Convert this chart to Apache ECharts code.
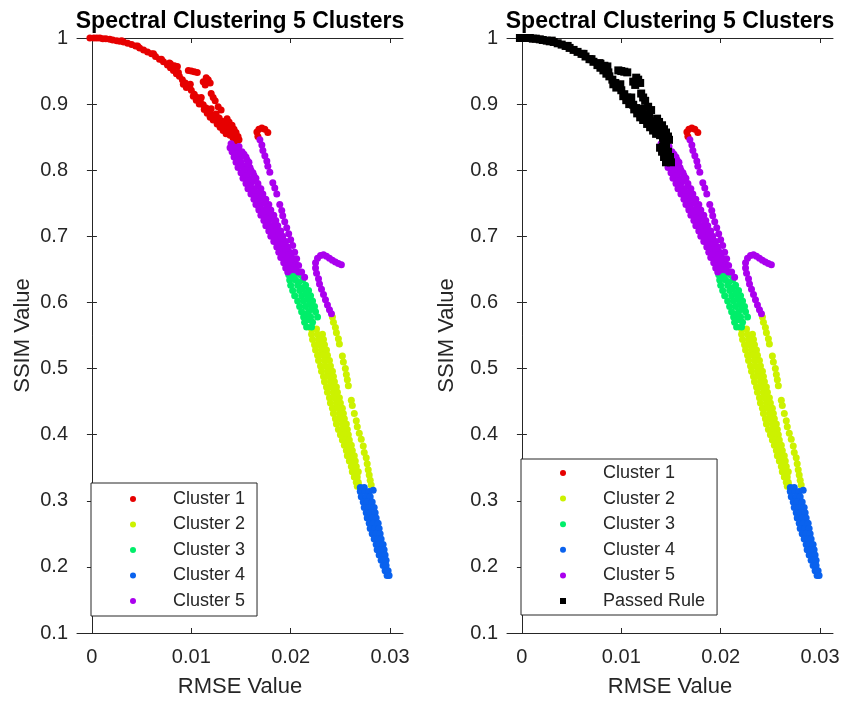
<!DOCTYPE html>
<html><head><meta charset="utf-8">
<script src="https://cdn.jsdelivr.net/npm/echarts@6/dist/echarts.min.js"></script>
<style>html,body{margin:0;padding:0;background:#fff}#c{width:843px;height:703px}</style>
</head><body><div id="c"></div>
<script>
const titleText = 'Spectral Clustering 5 Clusters';
const xName = 'RMSE Value';
const yName = 'SSIM Value';
const xTicks = [0, 0.01, 0.02, 0.03];
const clusterNames = ['Cluster 1', 'Cluster 2', 'Cluster 3', 'Cluster 4', 'Cluster 5'];
const passedName = 'Passed Rule';

const cluster1Curve = [[-0.0002,1.000],[0.0002,1.000],[0.0005,1.000],[0.0008,1.000],[0.0011,0.999],[0.0014,0.999],[0.0018,0.998],[0.0021,0.997],[0.0025,0.996],[0.0028,0.995],[0.0032,0.994],[0.0036,0.992],[0.0040,0.990],[0.0044,0.988],[0.0048,0.985],[0.0052,0.982],[0.0056,0.979],[0.0060,0.976],[0.0064,0.972],[0.0068,0.968],[0.0072,0.964],[0.0076,0.959],[0.0079,0.955],[0.0082,0.951],[0.0085,0.946],[0.0088,0.942],[0.0091,0.937],[0.0094,0.932],[0.0097,0.927],[0.0100,0.921],[0.0103,0.915],[0.0106,0.910],[0.0109,0.904],[0.0112,0.899],[0.0115,0.894],[0.0118,0.889],[0.0121,0.884],[0.0124,0.878],[0.0127,0.872],[0.0130,0.867],[0.0133,0.862],[0.0136,0.857],[0.0139,0.853],[0.0142,0.849],[0.0145,0.845],[0.0070,0.968],[0.0087,0.948],[0.0099,0.930],[0.0110,0.910],[0.0120,0.893],[0.0128,0.879],[0.0134,0.870],[0.0140,0.860],[0.0144,0.853],[0.0137,0.866],[0.0131,0.874],[0.0125,0.885],[0.0143,0.842],[0.0146,0.848],[0.0092,0.930],[0.0095,0.925],[0.0102,0.912],[0.0105,0.906],[0.0108,0.900],[0.0113,0.892],[0.0116,0.886],[0.0119,0.880],[0.0122,0.876],[0.0126,0.870],[0.0129,0.865],[0.0132,0.860],[0.0135,0.855],[0.0138,0.858],[0.0141,0.856],[0.0133,0.868],[0.0126,0.878],[0.0030,0.996],[0.0046,0.988],[0.0062,0.976],[0.0078,0.962]];
const cluster1Branch = [[0.0079,0.961],[0.0083,0.958],[0.0086,0.957],[0.0097,0.951],[0.0100,0.950],[0.0103,0.949],[0.0106,0.948],[0.0112,0.934],[0.0115,0.940],[0.0117,0.937],[0.0119,0.932],[0.0114,0.929],[0.0120,0.916],[0.0122,0.910],[0.0124,0.905],[0.0127,0.896],[0.0130,0.891],[0.0136,0.878],[0.0138,0.873],[0.0141,0.868],[0.0143,0.862],[0.0145,0.857],[0.0147,0.851],[0.0148,0.846]];
const cluster1Hook = [[0.0166,0.858],[0.0168,0.862],[0.0171,0.864],[0.0174,0.862],[0.0177,0.857],[0.0167,0.851]];

const cluster2Band = [[0.0221,0.560],[0.0226,0.560],[0.0221,0.552],[0.0227,0.552],[0.0232,0.552],[0.0222,0.544],[0.0228,0.544],[0.0233,0.544],[0.0224,0.536],[0.0229,0.536],[0.0234,0.536],[0.0225,0.528],[0.0231,0.528],[0.0236,0.528],[0.0227,0.520],[0.0232,0.520],[0.0237,0.520],[0.0228,0.512],[0.0234,0.512],[0.0239,0.512],[0.0230,0.504],[0.0235,0.504],[0.0240,0.504],[0.0231,0.496],[0.0237,0.496],[0.0242,0.496],[0.0233,0.488],[0.0238,0.488],[0.0243,0.488],[0.0234,0.480],[0.0240,0.480],[0.0244,0.480],[0.0236,0.472],[0.0241,0.472],[0.0246,0.472],[0.0237,0.464],[0.0243,0.464],[0.0247,0.464],[0.0239,0.456],[0.0244,0.456],[0.0249,0.456],[0.0240,0.448],[0.0246,0.448],[0.0250,0.448],[0.0242,0.440],[0.0247,0.440],[0.0252,0.440],[0.0243,0.432],[0.0249,0.432],[0.0253,0.432],[0.0245,0.424],[0.0250,0.424],[0.0254,0.424],[0.0246,0.416],[0.0252,0.416],[0.0256,0.416],[0.0248,0.408],[0.0253,0.408],[0.0257,0.408],[0.0250,0.400],[0.0255,0.400],[0.0258,0.400],[0.0252,0.392],[0.0256,0.392],[0.0259,0.392],[0.0254,0.384],[0.0258,0.384],[0.0261,0.384],[0.0256,0.376],[0.0260,0.376],[0.0262,0.376],[0.0257,0.368],[0.0261,0.368],[0.0264,0.368],[0.0259,0.360],[0.0263,0.360],[0.0265,0.360],[0.0261,0.352],[0.0264,0.352],[0.0266,0.352],[0.0262,0.344],[0.0265,0.344],[0.0268,0.344],[0.0264,0.336],[0.0267,0.336],[0.0266,0.328],[0.0268,0.328],[0.0267,0.322],[0.0269,0.322]];
const cluster2Line = [[0.0242,0.578],[0.0243,0.570],[0.0245,0.562],[0.0246,0.554],[0.0248,0.545],[0.0249,0.537],[0.0252,0.519],[0.0253,0.510],[0.0255,0.500],[0.0256,0.491],[0.0257,0.483],[0.0258,0.474],[0.0261,0.452],[0.0262,0.444],[0.0264,0.432],[0.0266,0.421],[0.0267,0.412],[0.0269,0.402],[0.0271,0.393],[0.0273,0.383],[0.0274,0.373],[0.0276,0.365],[0.0277,0.356],[0.0278,0.347],[0.0279,0.339],[0.0280,0.331],[0.0281,0.324]];

const cluster3 = [[0.0198,0.642],[0.0204,0.642],[0.0210,0.642],[0.0199,0.634],[0.0205,0.634],[0.0212,0.634],[0.0200,0.626],[0.0207,0.626],[0.0215,0.626],[0.0202,0.618],[0.0209,0.618],[0.0218,0.618],[0.0204,0.610],[0.0211,0.610],[0.0220,0.610],[0.0207,0.602],[0.0213,0.602],[0.0222,0.602],[0.0209,0.594],[0.0215,0.594],[0.0224,0.594],[0.0211,0.586],[0.0218,0.586],[0.0225,0.586],[0.0213,0.578],[0.0220,0.578],[0.0227,0.578],[0.0214,0.570],[0.0222,0.570],[0.0216,0.563],[0.0221,0.563],[0.0202,0.638],[0.0208,0.630],[0.0212,0.622],[0.0215,0.614],[0.0217,0.606],[0.0219,0.598],[0.0221,0.590],[0.0216,0.582],[0.0218,0.574]];

const cluster4 = [[0.0270,0.320],[0.0274,0.320],[0.0270,0.314],[0.0275,0.314],[0.0279,0.314],[0.0283,0.316],[0.0271,0.306],[0.0276,0.306],[0.0280,0.306],[0.0273,0.298],[0.0277,0.298],[0.0282,0.298],[0.0274,0.290],[0.0279,0.290],[0.0284,0.290],[0.0276,0.282],[0.0280,0.282],[0.0285,0.282],[0.0277,0.274],[0.0282,0.274],[0.0286,0.274],[0.0279,0.266],[0.0283,0.266],[0.0288,0.266],[0.0280,0.258],[0.0285,0.258],[0.0289,0.258],[0.0282,0.250],[0.0286,0.250],[0.0290,0.250],[0.0284,0.242],[0.0288,0.242],[0.0291,0.242],[0.0286,0.234],[0.0289,0.234],[0.0293,0.234],[0.0287,0.226],[0.0291,0.226],[0.0294,0.226],[0.0289,0.218],[0.0293,0.218],[0.0295,0.218],[0.0291,0.210],[0.0294,0.210],[0.0296,0.210],[0.0293,0.202],[0.0296,0.202],[0.0295,0.194],[0.0298,0.194],[0.0297,0.187],[0.0299,0.187]];

const cluster5Band = [[0.0140,0.840],[0.0139,0.834],[0.0145,0.834],[0.0141,0.828],[0.0147,0.828],[0.0151,0.828],[0.0143,0.820],[0.0149,0.820],[0.0155,0.820],[0.0145,0.812],[0.0150,0.812],[0.0158,0.812],[0.0147,0.804],[0.0153,0.804],[0.0159,0.804],[0.0150,0.796],[0.0156,0.796],[0.0162,0.796],[0.0152,0.788],[0.0158,0.788],[0.0165,0.788],[0.0155,0.780],[0.0160,0.780],[0.0167,0.780],[0.0157,0.772],[0.0163,0.772],[0.0170,0.772],[0.0160,0.764],[0.0166,0.764],[0.0172,0.764],[0.0163,0.756],[0.0168,0.756],[0.0175,0.756],[0.0165,0.748],[0.0170,0.748],[0.0178,0.748],[0.0168,0.740],[0.0173,0.740],[0.0180,0.740],[0.0170,0.732],[0.0176,0.732],[0.0183,0.732],[0.0173,0.724],[0.0178,0.724],[0.0185,0.724],[0.0175,0.716],[0.0181,0.716],[0.0187,0.716],[0.0178,0.708],[0.0183,0.708],[0.0190,0.708],[0.0180,0.700],[0.0186,0.700],[0.0192,0.700],[0.0183,0.692],[0.0188,0.692],[0.0195,0.692],[0.0186,0.684],[0.0190,0.684],[0.0197,0.684],[0.0188,0.676],[0.0193,0.676],[0.0199,0.676],[0.0190,0.668],[0.0196,0.668],[0.0201,0.668],[0.0193,0.660],[0.0199,0.660],[0.0204,0.660],[0.0195,0.652],[0.0201,0.652],[0.0197,0.646],[0.0208,0.646],
[0.0142,0.836],[0.0148,0.836],[0.0146,0.824],[0.0153,0.824],[0.0148,0.816],[0.0156,0.816],[0.0151,0.808],[0.0157,0.808],[0.0153,0.800],[0.0160,0.800],[0.0155,0.792],[0.0163,0.792],[0.0157,0.784],[0.0164,0.784],[0.0158,0.776],[0.0167,0.776],[0.0162,0.768],[0.0169,0.768],[0.0164,0.760],[0.0171,0.760],[0.0167,0.752],[0.0174,0.752],[0.0168,0.744],[0.0176,0.744],[0.0172,0.736],[0.0179,0.736],[0.0174,0.728],[0.0181,0.728],[0.0176,0.720],[0.0184,0.720],[0.0179,0.712],[0.0186,0.712],[0.0181,0.704],[0.0188,0.704],[0.0184,0.696],[0.0191,0.696],[0.0187,0.688],[0.0193,0.688],[0.0189,0.680],[0.0195,0.680],[0.0191,0.672],[0.0198,0.672],[0.0194,0.664],[0.0200,0.664],[0.0197,0.656],[0.0203,0.656],[0.0200,0.649],[0.0205,0.649]];
const cluster5Line = [[0.0169,0.846],[0.0171,0.838],[0.0172,0.830],[0.0174,0.822],[0.0176,0.814],[0.0177,0.806],[0.0179,0.797],[0.0182,0.781],[0.0184,0.773],[0.0186,0.764],[0.0189,0.748],[0.0191,0.739],[0.0192,0.731],[0.0194,0.722],[0.0196,0.713],[0.0198,0.704],[0.0200,0.695],[0.0202,0.686],[0.0204,0.676],[0.0206,0.666],[0.0208,0.656],[0.0211,0.646],[0.0214,0.638]];
const cluster5Hook = [[0.0225,0.660],[0.0227,0.667],[0.0230,0.671],[0.0233,0.672],[0.0236,0.670],[0.0239,0.667],[0.0242,0.664],[0.0245,0.661],[0.0248,0.659],[0.0251,0.657],[0.0225,0.652],[0.0226,0.644],[0.0228,0.636],[0.0229,0.628],[0.0231,0.620],[0.0233,0.612],[0.0235,0.604],[0.0237,0.596],[0.0239,0.589],[0.0241,0.583]];

const passedExtra = [[0.0139,0.834],[0.0145,0.834],[0.0141,0.828],[0.0147,0.828],[0.0143,0.820],[0.0149,0.820],[0.0145,0.812],[0.0150,0.812],[0.0147,0.816],[0.0142,0.836],[0.0146,0.824]];

const clusterColors = ['#e60000', '#ccf200', '#00ee6a', '#0a62ee', '#aa00ee'];
const passedColor = '#000000';

const cluster1 = cluster1Curve.concat(cluster1Branch, cluster1Hook);
const cluster2 = cluster2Band.concat(cluster2Line);
const cluster5 = cluster5Band.concat(cluster5Line, cluster5Hook);
const passedRule = cluster1Curve.concat(cluster1Branch, passedExtra);
const clusterData = [cluster1, cluster2, cluster3, cluster4, cluster5];

const ink = '#262626';
const FONT = 'Liberation Sans, Arial, Helvetica, sans-serif';
const plots = [{left: 77, nameGap: 43}, {left: 507, nameGap: 49}];
const top0 = 38, W = 326, H = 595;

const grids = [], xAxes = [], yAxes = [], titles = [], series = [];
plots.forEach((p, i) => {
  grids.push({left: p.left, top: top0, width: W, height: H, containLabel: false});
  titles.push({text: titleText, left: p.left + W / 2, top: 10, textAlign: 'center', padding: 0,
    textStyle: {fontFamily: FONT, fontSize: 23, fontWeight: 'bold', color: '#000'}});
  const common = {type: 'value', gridIndex: i, min: -0.0015, max: 0.0313, splitLine: {show: false},
    axisLine: {show: true, lineStyle: {color: ink, width: 1}}};
  xAxes.push(Object.assign({}, common, {position: 'bottom', name: xName, nameLocation: 'middle', nameGap: 43,
    nameTextStyle: {fontFamily: FONT, fontSize: 22, color: ink},
    axisTick: {show: true, inside: true, length: 5, customValues: xTicks, lineStyle: {color: ink}},
    axisLabel: {show: true, margin: 14, fontFamily: FONT, fontSize: 20, color: ink, customValues: xTicks,
      formatter: v => String(Math.round(v * 1000) / 1000)}}));
  xAxes.push(Object.assign({}, common, {position: 'top',
    axisTick: {show: true, inside: true, length: 5, customValues: xTicks, lineStyle: {color: ink}},
    axisLabel: {show: false}}));
  const ycommon = {type: 'value', gridIndex: i, min: 0.1, max: 1, interval: 0.1, splitLine: {show: false},
    axisLine: {show: true, lineStyle: {color: ink, width: 1}},
    axisTick: {show: true, inside: true, length: 5, lineStyle: {color: ink}}};
  yAxes.push(Object.assign({}, ycommon, {position: 'left', name: yName, nameLocation: 'middle', nameGap: p.nameGap,
    nameTextStyle: {fontFamily: FONT, fontSize: 22, color: ink},
    axisLabel: {show: true, margin: 9, fontFamily: FONT, fontSize: 20, color: ink,
      formatter: v => String(Math.round(v * 10) / 10)}}));
  yAxes.push(Object.assign({}, ycommon, {position: 'right', axisLabel: {show: false}}));
  clusterNames.forEach((n, k) => {
    series.push({type: 'scatter', name: n, xAxisIndex: i * 2, yAxisIndex: i * 2, data: clusterData[k],
      symbol: 'circle', symbolSize: 7, itemStyle: {color: clusterColors[k], opacity: 1}, silent: true, z: 2});
  });
});
series.push({type: 'scatter', name: passedName, xAxisIndex: 2, yAxisIndex: 2, data: passedRule,
  symbol: 'rect', symbolSize: 8, itemStyle: {color: passedColor, opacity: 1}, silent: true, z: 3});

const squareIcon = 'path://M0,0L10,0L10,10L0,10Z';
const legendCommon = {orient: 'vertical', itemWidth: 6, itemHeight: 6, icon: 'circle',
  backgroundColor: '#fff', borderColor: ink, borderWidth: 1, selectedMode: false, z: 10,
  textStyle: {fontFamily: FONT, fontSize: 18, color: ink, lineHeight: 20, padding: [0, 0, 0, 32]}};
const legends = [
  Object.assign({}, legendCommon, {left: 91, top: 483, itemGap: 5.5, padding: [6, 12, 5, 39],
    data: clusterNames.map(n => ({name: n, icon: 'circle'}))}),
  Object.assign({}, legendCommon, {left: 521, top: 459, itemGap: 5.6, padding: [4, 12, 4, 39],
    data: clusterNames.map(n => ({name: n, icon: 'circle'})).concat([{name: passedName, icon: squareIcon}])})
];

const chart = echarts.init(document.getElementById('c'), null, {renderer: 'canvas'});
chart.setOption({
  animation: false,
  backgroundColor: '#fff',
  title: titles,
  grid: grids,
  xAxis: xAxes,
  yAxis: yAxes,
  legend: legends,
  series: series
});
</script>
</body></html>
